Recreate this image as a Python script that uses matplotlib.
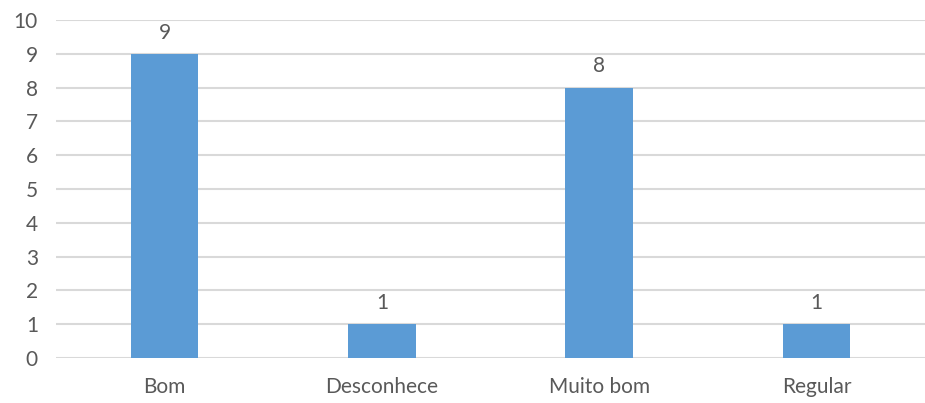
import matplotlib
matplotlib.use("Agg")
import matplotlib.pyplot as plt

categories = ["Bom", "Desconhece", "Muito bom", "Regular"]
values = [9, 1, 8, 1]
y_ticks = [0, 1, 2, 3, 4, 5, 6, 7, 8, 9, 10]

plt.rcParams["font.family"] = ["Lato", "DejaVu Sans"]
text_color = "#595959"
font_size = 15

fig = plt.figure(figsize=(9.25, 4.03), dpi=100)
ax = fig.add_axes([56 / 925, 1 - 358 / 403, 1 - 56 / 925, (358 - 20) / 403])

x = range(len(categories))
bars = ax.bar(x, values, width=0.31, color="#5B9BD5", zorder=3)

for xi, v in zip(x, values):
    ax.text(xi, v + 0.33, str(v), ha="center", va="bottom",
            fontsize=font_size, color=text_color)

ax.set_xlim(-0.5, len(categories) - 0.5)
ax.set_ylim(0, 10)
ax.set_yticks(y_ticks)
ax.set_xticks(list(x))
ax.set_xticklabels(categories)
ax.tick_params(axis="both", length=0, labelsize=font_size, labelcolor=text_color)
ax.tick_params(axis="x", pad=14)
ax.tick_params(axis="y", pad=13)
ax.grid(axis="y", color="#D9D9D9", linewidth=1.5, zorder=0)
for s in ax.spines.values():
    s.set_visible(False)

fig.savefig("out.png", dpi=100)
